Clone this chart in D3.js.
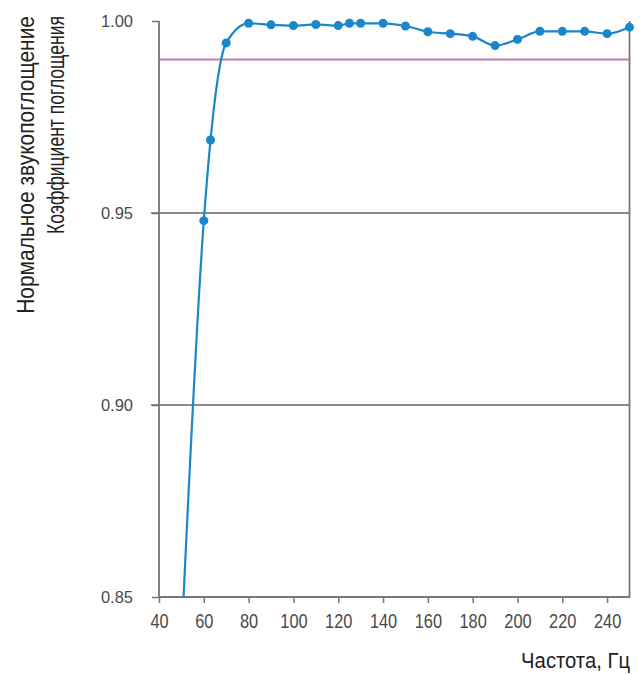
<!DOCTYPE html>
<html lang="ru">
<head>
    <meta charset="UTF-8">
    <title>Коэффициент поглощения</title>
    <script src="https://cdnjs.cloudflare.com/ajax/libs/d3/7.8.5/d3.min.js"></script>
    <style>
        body {
            margin: 0;
            padding: 0;
            background: #fff;
        }
        .tick-label {
            font-family: "Liberation Sans", Arial, sans-serif;
            fill: #4a4a4a;
        }
        .axis-title {
            font-family: "Liberation Sans", Arial, sans-serif;
            font-size: 23px;
            fill: #222;
        }
    </style>
</head>
<body>
    <div id="chart"></div>

    <script>
        // Frequency (Hz) and normal absorption coefficient
        const frequencies = [50, 60, 63, 70, 80, 90, 100, 110, 120, 125, 130, 140, 150, 160, 170, 180, 190, 200, 210, 220, 230, 240, 250];
        const absorption = [0.838, 0.948, 0.969, 0.9943, 0.9994, 0.999, 0.9988, 0.9991, 0.9988, 0.9994, 0.9994, 0.9994, 0.9987,
                            0.9972, 0.9967, 0.996, 0.9936, 0.9952, 0.9973, 0.9973, 0.9973, 0.9967, 0.9984];
        const xTicks = [40, 60, 80, 100, 120, 140, 160, 180, 200, 220, 240];
        const yTicks = [0.85, 0.90, 0.95, 1.00];
        const gridValues = [0.90, 0.95];
        const targetLevel = 0.99;

        const width = 644;
        const height = 675;
        const margin = { top: 21, right: 14.5, bottom: 78, left: 159 };

        const x = d3.scaleLinear()
            .domain([40, 250])
            .range([margin.left, width - margin.right]);

        const y = d3.scaleLinear()
            .domain([0.85, 1.00])
            .range([height - margin.bottom, margin.top]);

        const svg = d3.select('#chart')
            .append('svg')
            .attr('width', width)
            .attr('height', height);

        svg.append('defs').append('clipPath')
            .attr('id', 'plot-clip')
            .append('rect')
            .attr('x', margin.left)
            .attr('y', 0)
            .attr('width', width - margin.right - margin.left + 6)
            .attr('height', height - margin.bottom);

        // Horizontal grid lines
        svg.append('g')
            .selectAll('line')
            .data(gridValues)
            .enter().append('line')
            .attr('x1', x(40) - 8)
            .attr('x2', x(250))
            .attr('y1', d => y(d))
            .attr('y2', d => y(d))
            .attr('stroke', '#666')
            .attr('stroke-width', 1.5);

        // 0.99 reference line
        svg.append('line')
            .attr('x1', x(40))
            .attr('x2', x(250))
            .attr('y1', y(targetLevel))
            .attr('y2', y(targetLevel))
            .attr('stroke', '#c679b6')
            .attr('stroke-width', 2);

        // Y axis
        const yAxis = svg.append('g')
            .attr('transform', `translate(${margin.left},0)`)
            .call(d3.axisLeft(y).tickValues(yTicks).tickFormat(d3.format('.2f')).tickSize(7).tickPadding(19));
        yAxis.select('.domain').remove();
        yAxis.selectAll('.tick line').attr('stroke', '#777').attr('stroke-width', 1.5);
        yAxis.selectAll('.tick text')
            .attr('class', 'tick-label')
            .style('font-size', '16.5px');

        // X axis (condensed digits)
        const xAxis = svg.append('g')
            .attr('transform', `translate(0,${height - margin.bottom})`)
            .call(d3.axisBottom(x).tickValues(xTicks).tickSize(6).tickPadding(6));
        xAxis.select('.domain').remove();
        xAxis.selectAll('.tick line').attr('stroke', '#777').attr('stroke-width', 1.5);
        xAxis.selectAll('.tick text')
            .attr('class', 'tick-label')
            .style('font-size', '20px')
            .attr('y', 0)
            .attr('dy', 0)
            .attr('transform', 'translate(0,31) scale(0.82,1)');

        // Frame: left, bottom and right
        svg.append('path')
            .attr('d', `M${x(40)},${y(1)}V${y(0.85)}H${x(250)}V${y(1)}`)
            .attr('fill', 'none')
            .attr('stroke', '#777')
            .attr('stroke-width', 1.8);

        const points = frequencies.map((f, i) => ({ f: f, v: absorption[i] }));

        const line = d3.line()
            .x(d => x(d.f))
            .y(d => y(d.v))
            .curve(d3.curveMonotoneX);

        const plot = svg.append('g').attr('clip-path', 'url(#plot-clip)');

        plot.append('path')
            .datum(points)
            .attr('fill', 'none')
            .attr('stroke', '#1a86cc')
            .attr('stroke-width', 2.2)
            .attr('d', line);

        plot.selectAll('circle')
            .data(points)
            .enter().append('circle')
            .attr('cx', d => x(d.f))
            .attr('cy', d => y(d.v))
            .attr('r', 4.5)
            .attr('fill', '#1a86cc');

        // Narrow titles: squeeze along the text direction to a target length
        function narrowTitle(label, target, place) {
            const t = svg.append('text')
                .attr('class', 'axis-title')
                .attr('text-anchor', 'end')
                .text(label);
            const k = target / t.node().getComputedTextLength();
            t.attr('transform', `${place} scale(${k},1)`);
            return t;
        }

        narrowTitle('Нормальное звукопоглощение', 298, 'translate(34,16) rotate(-90)');
        narrowTitle('Коэффициент поглощения', 218, 'translate(64,16) rotate(-90)');
        narrowTitle('Частота, Гц', 109, 'translate(630,668)').style('font-size', null);
    </script>
</body>
</html>
